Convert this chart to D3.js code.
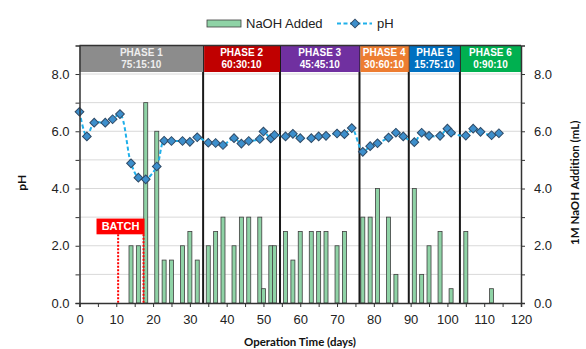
<!DOCTYPE html>
<html>
<head>
<meta charset="utf-8">
<script src="https://cdn.jsdelivr.net/npm/d3@7"></script>
<style>
  body { margin: 0; background: #fff; }
  text { font-family: "Liberation Sans", Arial, sans-serif; }
</style>
</head>
<body>
<div id="chart"></div>
<script>
// NaOH additions (mL)
const naohDays = [14, 16, 18, 21, 23, 25, 28, 30, 32, 35, 37, 39, 42, 44, 46, 49, 50, 52, 53,
  56, 58, 60, 63, 65, 67, 70, 72, 77, 79, 81, 84, 86, 91, 93, 95, 98, 101, 105, 112]
const naohMl = [2, 2, 7, 6, 1.5, 1.5, 2, 2.5, 1.5, 2, 2.5, 3, 2, 3, 3, 3, 0.5, 2, 2,
  2.5, 1.5, 2.5, 2.5, 2.5, 2.5, 2, 2.5, 3, 3, 4, 3, 1, 4, 1, 2, 2.5, 0.5, 2.5, 0.5]

// pH readings
const phDays = [0, 2, 4, 7, 9, 11, 14, 16, 18, 21, 23, 25, 28, 30, 32, 35, 37, 39, 42, 44, 46,
  49, 50, 52, 53, 56, 58, 60, 63, 65, 67, 70, 72, 74, 77, 79, 81, 84, 86, 88, 91, 93, 95, 98,
  100, 101, 105, 107, 109, 112, 114]
const phValues = [6.68, 5.82, 6.30, 6.30, 6.42, 6.60, 4.88, 4.38, 4.32, 4.77, 5.67, 5.66, 5.66,
  5.63, 5.79, 5.60, 5.59, 5.52, 5.76, 5.57, 5.66, 5.73, 5.99, 5.75, 5.87, 5.82, 5.91, 5.76,
  5.76, 5.82, 5.84, 5.92, 5.90, 6.11, 5.28, 5.48, 5.58, 5.78, 5.95, 5.82, 5.62, 5.95, 5.84,
  5.84, 6.09, 5.95, 5.85, 6.09, 5.98, 5.86, 5.93]

// phases
const phaseNames = ["PHASE 1", "PHASE 2", "PHASE 3", "PHASE 4", "PHAE 5", "PHASE 6"]
const phaseRatios = ["75:15:10", "60:30:10", "45:45:10", "30:60:10", "15:75:10", "0:90:10"]
const phaseStarts = [0, 33.6, 54.5, 76.1, 89.5, 103.4]
const phaseColors = ["#8c8c8c", "#c00000", "#7030a0", "#ed7d31", "#0070c0", "#00b050"]

// batch annotation
const batchLabel = "BATCH"
const batchDays = [10.5, 17.4]

const xTicks = d3.range(0, 121, 10)
const yTicks = [0, 2, 4, 6, 8]

var width = 586, height = 349

var svg = d3.select("#chart").append("svg")
  .attr("width", width).attr("height", height)

var x = d3.scaleLinear().domain([0, 120]).range([79.5, 521])
var y = d3.scaleLinear().domain([0, 9]).range([303, 45.4])

// gridlines
svg.append("g").selectAll("line")
  .data(d3.range(1, 9))
  .enter().append("line")
  .attr("x1", x(0)).attr("x2", x(120))
  .attr("y1", d => y(d)).attr("y2", d => y(d))
  .attr("stroke", "#d9d9d9").attr("stroke-width", 1)

// bars
var barWidth = 4
svg.append("g").selectAll("rect")
  .data(naohDays)
  .enter().append("rect")
  .attr("x", d => x(d) - barWidth / 2)
  .attr("y", (d, i) => y(naohMl[i]))
  .attr("width", barWidth)
  .attr("height", (d, i) => y(0) - y(naohMl[i]))
  .attr("fill", "#8fd3a6")
  .attr("stroke", "#3f3f3f")
  .attr("stroke-width", 0.8)

// phase dividers
svg.append("g").selectAll("line")
  .data(phaseStarts.slice(1))
  .enter().append("line")
  .attr("x1", d => x(d)).attr("x2", d => x(d))
  .attr("y1", y(9)).attr("y2", y(0))
  .attr("stroke", "#1a1a1a").attr("stroke-width", 2)

// batch markers
svg.append("g").selectAll("line")
  .data(batchDays)
  .enter().append("line")
  .attr("x1", d => x(d)).attr("x2", d => x(d))
  .attr("y1", y(2.4)).attr("y2", y(0))
  .attr("stroke", "#ff0000").attr("stroke-width", 2)
  .attr("stroke-dasharray", "2,1.5")

var bx1 = x(batchDays[1]) + 1
svg.append("rect")
  .attr("x", bx1 - 48).attr("y", y(2.95))
  .attr("width", 48).attr("height", y(2.4) - y(2.95))
  .attr("fill", "#ff0000")
svg.append("text")
  .attr("x", bx1 - 24).attr("y", (y(2.95) + y(2.4)) / 2 + 4)
  .attr("text-anchor", "middle")
  .attr("fill", "#fff").attr("font-weight", "bold").attr("font-size", 11)
  .text(batchLabel)

// pH line
var line = d3.line()
  .x(d => x(d))
  .y((d, i) => y(phValues[i]))
  .curve(d3.curveCatmullRom.alpha(0.5))

svg.append("path")
  .datum(phDays)
  .attr("d", line)
  .attr("fill", "none")
  .attr("stroke", "#1fb0ea")
  .attr("stroke-width", 2)
  .attr("stroke-dasharray", "4,2.5")

var diamond = d3.symbol().type(d3.symbolSquare).size(38)
svg.append("g").selectAll("path")
  .data(phDays)
  .enter().append("path")
  .attr("d", diamond)
  .attr("transform", (d, i) => "translate(" + x(d) + "," + y(phValues[i]) + ") rotate(45)")
  .attr("fill", "#3d8fcc")
  .attr("stroke", "#2f4a66")
  .attr("stroke-width", 1)

// phase headers
var phaseEnds = phaseStarts.slice(1).concat([120])
var hdr = svg.append("g").selectAll("g")
  .data(phaseNames)
  .enter().append("g")
hdr.append("rect")
  .attr("x", (d, i) => x(phaseStarts[i]) + (i ? 1 : 0))
  .attr("y", y(9))
  .attr("width", (d, i) => x(phaseEnds[i]) - x(phaseStarts[i]) - (i ? 1 : 0))
  .attr("height", y(8.07) - y(9))
  .attr("fill", (d, i) => phaseColors[i])
hdr.append("text")
  .attr("x", (d, i) => (x(phaseStarts[i]) + x(phaseEnds[i])) / 2)
  .attr("y", y(9) + 11)
  .attr("text-anchor", "middle")
  .attr("fill", (d, i) => i ? "#fff" : "#eeeeee")
  .attr("font-weight", "bold").attr("font-size", 10)
  .text(d => d)
hdr.append("text")
  .attr("x", (d, i) => (x(phaseStarts[i]) + x(phaseEnds[i])) / 2)
  .attr("y", y(9) + 23)
  .attr("text-anchor", "middle")
  .attr("fill", (d, i) => i ? "#fff" : "#eeeeee")
  .attr("font-weight", "bold").attr("font-size", 10)
  .text((d, i) => phaseRatios[i])

// top border
svg.append("line")
  .attr("x1", x(0)).attr("x2", x(120))
  .attr("y1", y(9)).attr("y2", y(9))
  .attr("stroke", "#333").attr("stroke-width", 1.5)

// axes
var fmt = d3.format(".1f")
var yLeft = svg.append("g")
  .attr("transform", "translate(" + x(0) + ",0)")
  .call(d3.axisLeft(y).tickValues(d3.range(0, 9)).tickSize(4).tickFormat(d => yTicks.includes(d) ? fmt(d) : ""))
var yRight = svg.append("g")
  .attr("transform", "translate(" + x(120) + ",0)")
  .call(d3.axisRight(y).tickValues(d3.range(0, 9)).tickSize(4).tickFormat(d => yTicks.includes(d) ? fmt(d) : ""))
var xAxis = svg.append("g")
  .attr("transform", "translate(0," + y(0) + ")")
  .call(d3.axisBottom(x).tickValues(d3.range(0, 121, 5)).tickSize(4).tickFormat(d => xTicks.includes(d) ? d : ""))

;[yLeft, yRight, xAxis].forEach(a => {
  a.select(".domain").attr("stroke", "#333").attr("stroke-width", 1.5)
  a.selectAll(".tick line").attr("stroke", "#333")
  a.selectAll(".tick text")
    .attr("font-family", "Liberation Sans, Arial, sans-serif")
    .attr("font-size", 13).attr("fill", "#222")
})
yLeft.selectAll(".tick text").attr("x", -10)
yRight.selectAll(".tick text").attr("x", 13)
xAxis.selectAll(".tick text").attr("y", 12)

// axis titles
svg.append("text")
  .attr("transform", "translate(26," + y(4.2) + ") rotate(-90)")
  .attr("text-anchor", "middle")
  .style("font-family", "Lato, sans-serif")
  .attr("font-weight", "bold").attr("font-size", 12).attr("fill", "#111")
  .text("pH")
svg.append("text")
  .attr("transform", "translate(579," + y(4.2) + ") rotate(-90)")
  .attr("text-anchor", "middle")
  .style("font-family", "Lato, sans-serif")
  .attr("font-weight", "bold").attr("font-size", 11.5).attr("fill", "#111")
  .text("1M NaOH Addition (mL)")
svg.append("text")
  .attr("x", 300).attr("y", 346)
  .attr("text-anchor", "middle")
  .style("font-family", "Lato, sans-serif")
  .attr("font-weight", "bold").attr("font-size", 11.5).attr("fill", "#111")
  .text("Operation Time (days)")

// legend
var lg = svg.append("g")
lg.append("rect")
  .attr("x", 207).attr("y", 20).attr("width", 34).attr("height", 7)
  .attr("fill", "#8fd3a6").attr("stroke", "#3f3f3f").attr("stroke-width", 0.8)
lg.append("text")
  .attr("x", 246).attr("y", 28).attr("font-size", 13).attr("fill", "#222")
  .text("NaOH Added")
lg.append("line")
  .attr("x1", 337).attr("x2", 372).attr("y1", 23.5).attr("y2", 23.5)
  .attr("stroke", "#1fb0ea").attr("stroke-width", 2).attr("stroke-dasharray", "4,2.5")
lg.append("path")
  .attr("d", diamond)
  .attr("transform", "translate(355,23.5) rotate(45)")
  .attr("fill", "#3d8fcc").attr("stroke", "#2f4a66")
lg.append("text")
  .attr("x", 377).attr("y", 28).attr("font-size", 13).attr("fill", "#222")
  .text("pH")
</script>
</body>
</html>
